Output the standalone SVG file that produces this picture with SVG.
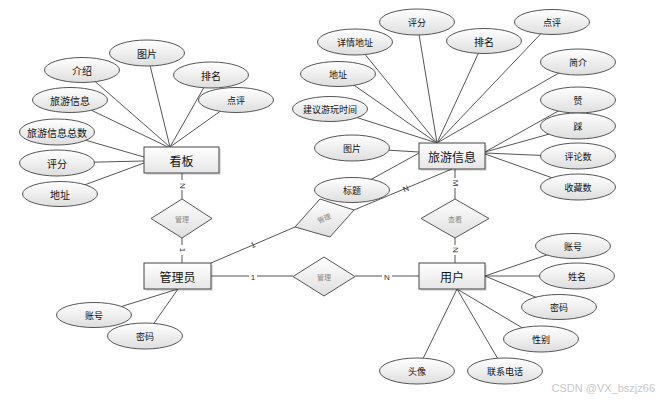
<svg xmlns="http://www.w3.org/2000/svg" width="662" height="404" viewBox="0 0 662 404">
<defs>
<linearGradient id="gE" x1="0" y1="0" x2="0" y2="1"><stop offset="0" stop-color="#ffffff"/><stop offset="1" stop-color="#dedede"/></linearGradient>
<linearGradient id="gR" x1="0" y1="0" x2="0" y2="1"><stop offset="0" stop-color="#ffffff"/><stop offset="1" stop-color="#e6e6e6"/></linearGradient>
</defs>
<style>
.ln{stroke:#555;stroke-width:1;fill:none}
.at ellipse{fill:url(#gE);stroke:#555;stroke-width:1}
.at text{font-family:"Noto Sans CJK SC","Liberation Sans",sans-serif;font-size:10px;fill:#111;text-anchor:middle;dominant-baseline:central}
.en rect{fill:url(#gR);stroke:#444;stroke-width:1}
.en text{font-family:"Noto Sans CJK SC","Liberation Sans",sans-serif;font-size:12px;fill:#111;text-anchor:middle;dominant-baseline:central}
.rl polygon{fill:url(#gE);stroke:#555;stroke-width:1}
.rl text{font-family:"Noto Sans CJK SC","Liberation Sans",sans-serif;font-size:7px;fill:#888;text-anchor:middle;dominant-baseline:central}
.cd{font-family:"Liberation Sans",sans-serif;font-size:8px;fill:#333;text-anchor:middle;dominant-baseline:central}
.sh{fill:#000;opacity:0.12}
</style>
<g id="connectors">
<!-- 看板 attributes -->
<line class="ln" x1="82" y1="70" x2="170" y2="147"/>
<line class="ln" x1="147" y1="53" x2="170" y2="147"/>
<line class="ln" x1="211" y1="75" x2="170" y2="147"/>
<line class="ln" x1="236" y1="100" x2="170" y2="147"/>
<line class="ln" x1="70" y1="100" x2="168" y2="147"/>
<line class="ln" x1="57" y1="132" x2="144" y2="157"/>
<line class="ln" x1="57" y1="163" x2="144" y2="161"/>
<line class="ln" x1="60" y1="194" x2="144" y2="163"/>
<!-- 旅游信息 attributes -->
<line class="ln" x1="417" y1="22" x2="437" y2="143"/>
<line class="ln" x1="355" y1="42" x2="437" y2="143"/>
<line class="ln" x1="484" y1="41" x2="437" y2="143"/>
<line class="ln" x1="552" y1="22" x2="437" y2="143"/>
<line class="ln" x1="578" y1="62" x2="437" y2="143"/>
<line class="ln" x1="338" y1="74" x2="437" y2="143"/>
<line class="ln" x1="330" y1="109" x2="437" y2="143"/>
<line class="ln" x1="578" y1="100" x2="485" y2="152"/>
<line class="ln" x1="578" y1="126" x2="485" y2="152"/>
<line class="ln" x1="578" y1="157" x2="485" y2="153"/>
<line class="ln" x1="578" y1="187" x2="485" y2="154"/>
<line class="ln" x1="352" y1="148" x2="419" y2="152"/>
<line class="ln" x1="352" y1="190" x2="419" y2="153"/>
<!-- 用户 attributes -->
<line class="ln" x1="573" y1="246" x2="485" y2="276"/>
<line class="ln" x1="577" y1="276" x2="485" y2="276"/>
<line class="ln" x1="559" y1="307" x2="485" y2="276"/>
<line class="ln" x1="541" y1="339" x2="457" y2="289"/>
<line class="ln" x1="505" y1="371" x2="457" y2="289"/>
<line class="ln" x1="417" y1="371" x2="457" y2="289"/>
<!-- 管理员 attributes -->
<line class="ln" x1="94" y1="315" x2="178" y2="289"/>
<line class="ln" x1="145" y1="336" x2="178" y2="289"/>
<!-- relationships -->
<line class="ln" x1="182" y1="173" x2="182" y2="199"/>
<line class="ln" x1="182" y1="238" x2="182" y2="263"/>
<line class="ln" x1="455" y1="169" x2="455" y2="199"/>
<line class="ln" x1="455" y1="238" x2="455" y2="263"/>
<line class="ln" x1="211" y1="276" x2="293" y2="276"/>
<line class="ln" x1="355" y1="276" x2="419" y2="276"/>
<line class="ln" x1="211" y1="263" x2="295" y2="227"/>
<line class="ln" x1="354" y1="210" x2="452" y2="169"/>
<!-- cardinality labels -->
<rect x="178" y="180" width="8" height="10" fill="#fff"/>
<text class="cd" transform="translate(182,186) rotate(90)">N</text>
<rect x="178" y="245" width="8" height="10" fill="#fff"/>
<text class="cd" transform="translate(182,250) rotate(90)">1</text>
<rect x="451" y="178" width="8" height="10" fill="#fff"/>
<text class="cd" transform="translate(455,183) rotate(90)">M</text>
<rect x="451" y="245" width="8" height="10" fill="#fff"/>
<text class="cd" transform="translate(455,250) rotate(90)">N</text>
<rect x="249" y="272" width="8" height="10" fill="#fff"/>
<text class="cd" x="253" y="277">1</text>
<rect x="382" y="272" width="10" height="10" fill="#fff"/>
<text class="cd" x="387" y="277">N</text>
<text class="cd" transform="translate(253,245) rotate(-23)">1</text>
<text class="cd" transform="translate(406,189) rotate(-23)">N</text>
</g>
<g id="kanban" class="en"><rect class="sh" x="146" y="149" width="75" height="26" style="fill:#000;stroke:none"/><rect x="144" y="147" width="75" height="26"/><text x="181.5" y="160">看板</text></g>
<g id="lvyouxinxi" class="en"><rect class="sh" x="421" y="145" width="66" height="26" style="fill:#000;stroke:none"/><rect x="419" y="143" width="66" height="26"/><text x="452" y="156">旅游信息</text></g>
<g id="guanliyuan" class="en"><rect class="sh" x="146" y="265" width="67" height="26" style="fill:#000;stroke:none"/><rect x="144" y="263" width="67" height="26"/><text x="177.5" y="276">管理员</text></g>
<g id="yonghu" class="en"><rect class="sh" x="421" y="265" width="66" height="26" style="fill:#000;stroke:none"/><rect x="419" y="263" width="66" height="26"/><text x="452" y="276">用户</text></g>
<g id="rel-kanban" class="rl"><polygon points="182,199 212,218.5 182,238 151,218.5"/><text x="182" y="218.5">管理</text></g>
<g id="rel-chakan" class="rl"><polygon points="455,199 489,218.5 455,238 421,218.5"/><text x="455" y="218.5">查看</text></g>
<g id="rel-guanli" class="rl"><polygon points="324,257 355,276.5 324,296 293,276.5"/><text x="324" y="276.5">管理</text></g>
<g id="rel-skew" class="rl"><polygon points="320,199 354,210 330,237 295,227"/><text transform="translate(324,218) rotate(-22)">管理</text></g>
<g id="a-jieshao" class="at"><ellipse cx="82" cy="70" rx="37.5" ry="12.5"/><text x="82" y="70">介绍</text></g>
<g id="a-tupian1" class="at"><ellipse cx="147" cy="53" rx="37.5" ry="13"/><text x="147" y="53">图片</text></g>
<g id="a-paiming1" class="at"><ellipse cx="211" cy="75" rx="37.5" ry="13"/><text x="211" y="75">排名</text></g>
<g id="a-dianping1" class="at"><ellipse cx="236" cy="100" rx="37.5" ry="12.5"/><text x="236" y="100" style="font-size:9px">点评</text></g>
<g id="a-lvyou" class="at"><ellipse cx="70" cy="100" rx="37.5" ry="12.5"/><text x="70" y="100">旅游信息</text></g>
<g id="a-zongshu" class="at"><ellipse cx="57" cy="132" rx="37.5" ry="13"/><text x="57" y="132">旅游信息总数</text></g>
<g id="a-pingfen1" class="at"><ellipse cx="57" cy="163" rx="37.5" ry="13"/><text x="57" y="163">评分</text></g>
<g id="a-dizhi1" class="at"><ellipse cx="60" cy="194" rx="37.5" ry="12.5"/><text x="60" y="194">地址</text></g>
<g id="a-pingfen2" class="at"><ellipse cx="417" cy="22" rx="37.5" ry="13"/><text x="417" y="22" style="font-size:9px">评分</text></g>
<g id="a-xiangqing" class="at"><ellipse cx="355" cy="42" rx="37.5" ry="13"/><text x="355" y="42" style="font-size:9px">详情地址</text></g>
<g id="a-paiming2" class="at"><ellipse cx="484" cy="41" rx="37.5" ry="12.5"/><text x="484" y="41">排名</text></g>
<g id="a-dianping2" class="at"><ellipse cx="552" cy="22" rx="37.5" ry="12.5"/><text x="552" y="22" style="font-size:9px">点评</text></g>
<g id="a-jianjie" class="at"><ellipse cx="578" cy="62" rx="37.5" ry="13"/><text x="578" y="62" style="font-size:9px">简介</text></g>
<g id="a-dizhi2" class="at"><ellipse cx="338" cy="74" rx="37.5" ry="12.5"/><text x="338" y="74" style="font-size:9px">地址</text></g>
<g id="a-jianyi" class="at"><ellipse cx="330" cy="109" rx="37.5" ry="12.5"/><text x="330" y="109" style="font-size:9px">建议游玩时间</text></g>
<g id="a-tupian2" class="at"><ellipse cx="352" cy="148" rx="37.5" ry="13"/><text x="352" y="148" style="font-size:9px">图片</text></g>
<g id="a-biaoti" class="at"><ellipse cx="352" cy="190" rx="37.5" ry="12.5"/><text x="352" y="190" style="font-size:9px">标题</text></g>
<g id="a-zan" class="at"><ellipse cx="578" cy="100" rx="37.5" ry="13"/><text x="578" y="100" style="font-size:9px">赞</text></g>
<g id="a-cai" class="at"><ellipse cx="578" cy="126" rx="37.5" ry="13"/><text x="578" y="126" style="font-size:9px">踩</text></g>
<g id="a-pinglun" class="at"><ellipse cx="578" cy="156" rx="37.5" ry="13"/><text x="578" y="156" style="font-size:9px">评论数</text></g>
<g id="a-shoucang" class="at"><ellipse cx="578" cy="187" rx="37.5" ry="13"/><text x="578" y="187" style="font-size:9px">收藏数</text></g>
<g id="a-zhanghao1" class="at"><ellipse cx="573" cy="246" rx="37.5" ry="12.5"/><text x="573" y="246" style="font-size:9px">账号</text></g>
<g id="a-xingming" class="at"><ellipse cx="577" cy="276" rx="37.5" ry="13"/><text x="577" y="276" style="font-size:9px">姓名</text></g>
<g id="a-mima1" class="at"><ellipse cx="559" cy="307" rx="37.5" ry="12.5"/><text x="559" y="307" style="font-size:9px">密码</text></g>
<g id="a-xingbie" class="at"><ellipse cx="541" cy="339" rx="37.5" ry="13"/><text x="541" y="339" style="font-size:9px">性别</text></g>
<g id="a-dianhua" class="at"><ellipse cx="505" cy="371" rx="37.5" ry="13"/><text x="505" y="371" style="font-size:9px">联系电话</text></g>
<g id="a-touxiang" class="at"><ellipse cx="417" cy="371" rx="37.5" ry="13"/><text x="417" y="371" style="font-size:9px">头像</text></g>
<g id="a-zhanghao2" class="at"><ellipse cx="94" cy="315" rx="37.5" ry="12.5"/><text x="94" y="315" style="font-size:9px">账号</text></g>
<g id="a-mima2" class="at"><ellipse cx="145" cy="336" rx="37.5" ry="13"/><text x="145" y="336" style="font-size:9px">密码</text></g>
<text x="655" y="392" style="font-family:'Liberation Sans',sans-serif;font-size:11px;fill:#c8c8c8;text-anchor:end">CSDN @VX_bszjz66</text>
</svg>
